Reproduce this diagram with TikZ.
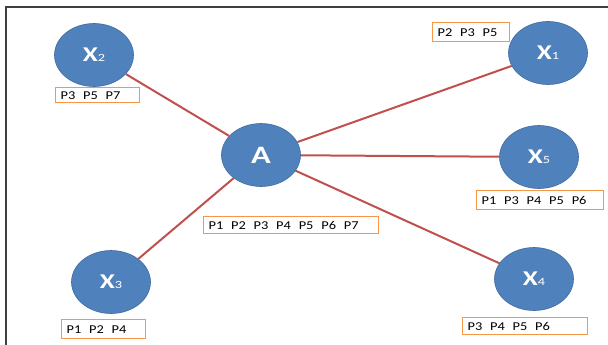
\documentclass[tikz,border=0pt]{standalone}
\usepackage{fontspec}
\setmainfont{Carlito}
\usetikzlibrary{shapes.geometric}
\definecolor{nodeblue}{HTML}{4F81BD}
\definecolor{nodeedge}{HTML}{3F6A9E}
\definecolor{linkred}{HTML}{C0504D}
\definecolor{tagorange}{HTML}{F79646}
\definecolor{framegray}{HTML}{404040}
\newcommand\pgap{\hspace{6.5pt}}
\newcommand\plist[1]{\scalebox{1.2}[1]{#1}}
\newcommand\vlabel[1]{\scalebox{1.3}[1]{{\fontsize{21}{21}\selectfont\bfseries X}{\fontsize{11}{11}\selectfont #1}}}
\tikzset{
  vertex/.style={ellipse, fill=nodeblue, draw=nodeedge, line width=0.6pt,
    minimum width=79pt, minimum height=63pt, inner sep=0pt, text=white},
  link/.style={draw=linkred, line width=2pt},
  tag/.style={draw=tagorange, line width=1.2pt, fill=white, anchor=north west,
    inner xsep=5pt, inner ysep=0pt, align=left,
    font=\fontsize{12}{12}\selectfont, text height=8.5pt, text depth=0pt},
}
\begin{document}
\begin{tikzpicture}[x=1pt,y=-1pt]
  \useasboundingbox (0,0) rectangle (608,345);
  % page frame (top and left edges)
  \draw[framegray, line width=1.4pt] (6,345) -- (6,7) -- (608,7);

  % vertices
  \node[vertex] (A)  at (261,155) {\scalebox{1.3}[1]{\fontsize{25}{25}\selectfont\bfseries A}};
  \node[vertex] (x2) at (94,55)   {\vlabel{2}};
  \node[vertex] (x1) at (548,53)  {\vlabel{1}};
  \node[vertex] (x5) at (539,157) {\vlabel{5}};
  \node[vertex] (x3) at (111,282) {\vlabel{3}};
  \node[vertex] (x4) at (534,279) {\vlabel{4}};

  % links from the hub
  \draw[link] (A) -- (x2);
  \draw[link] (A) -- (x1);
  \draw[link] (A) -- (x5);
  \draw[link] (A) -- (x3);
  \draw[link] (A) -- (x4);

  % property lists
  \node[tag, text width=74pt,  minimum height=15pt] (tA2) at (55,87)   {\plist{P3\pgap P5\pgap P7}};
  \node[tag, text width=165pt, minimum height=17pt] (tA)  at (203,216) {\plist{P1\pgap P2\pgap P3\pgap P4\pgap P5\pgap P6\pgap P7}};
  \node[tag, text width=67pt,  minimum height=19pt] (tA1) at (432,22)  {\plist{P2\pgap P3\pgap P5}};
  \node[tag, text width=117pt, minimum height=19pt] (tA5) at (476,190) {\plist{P1\pgap P3\pgap P4\pgap P5\pgap P6}};
  \node[tag, text width=74pt,  minimum height=19pt] (tA3) at (61,319)  {\plist{P1\pgap P2\pgap P4}};
  \node[tag, text width=115pt, minimum height=17pt] (tA4) at (462,317) {\plist{P3\pgap P4\pgap P5\pgap P6}};
\end{tikzpicture}
\end{document}
